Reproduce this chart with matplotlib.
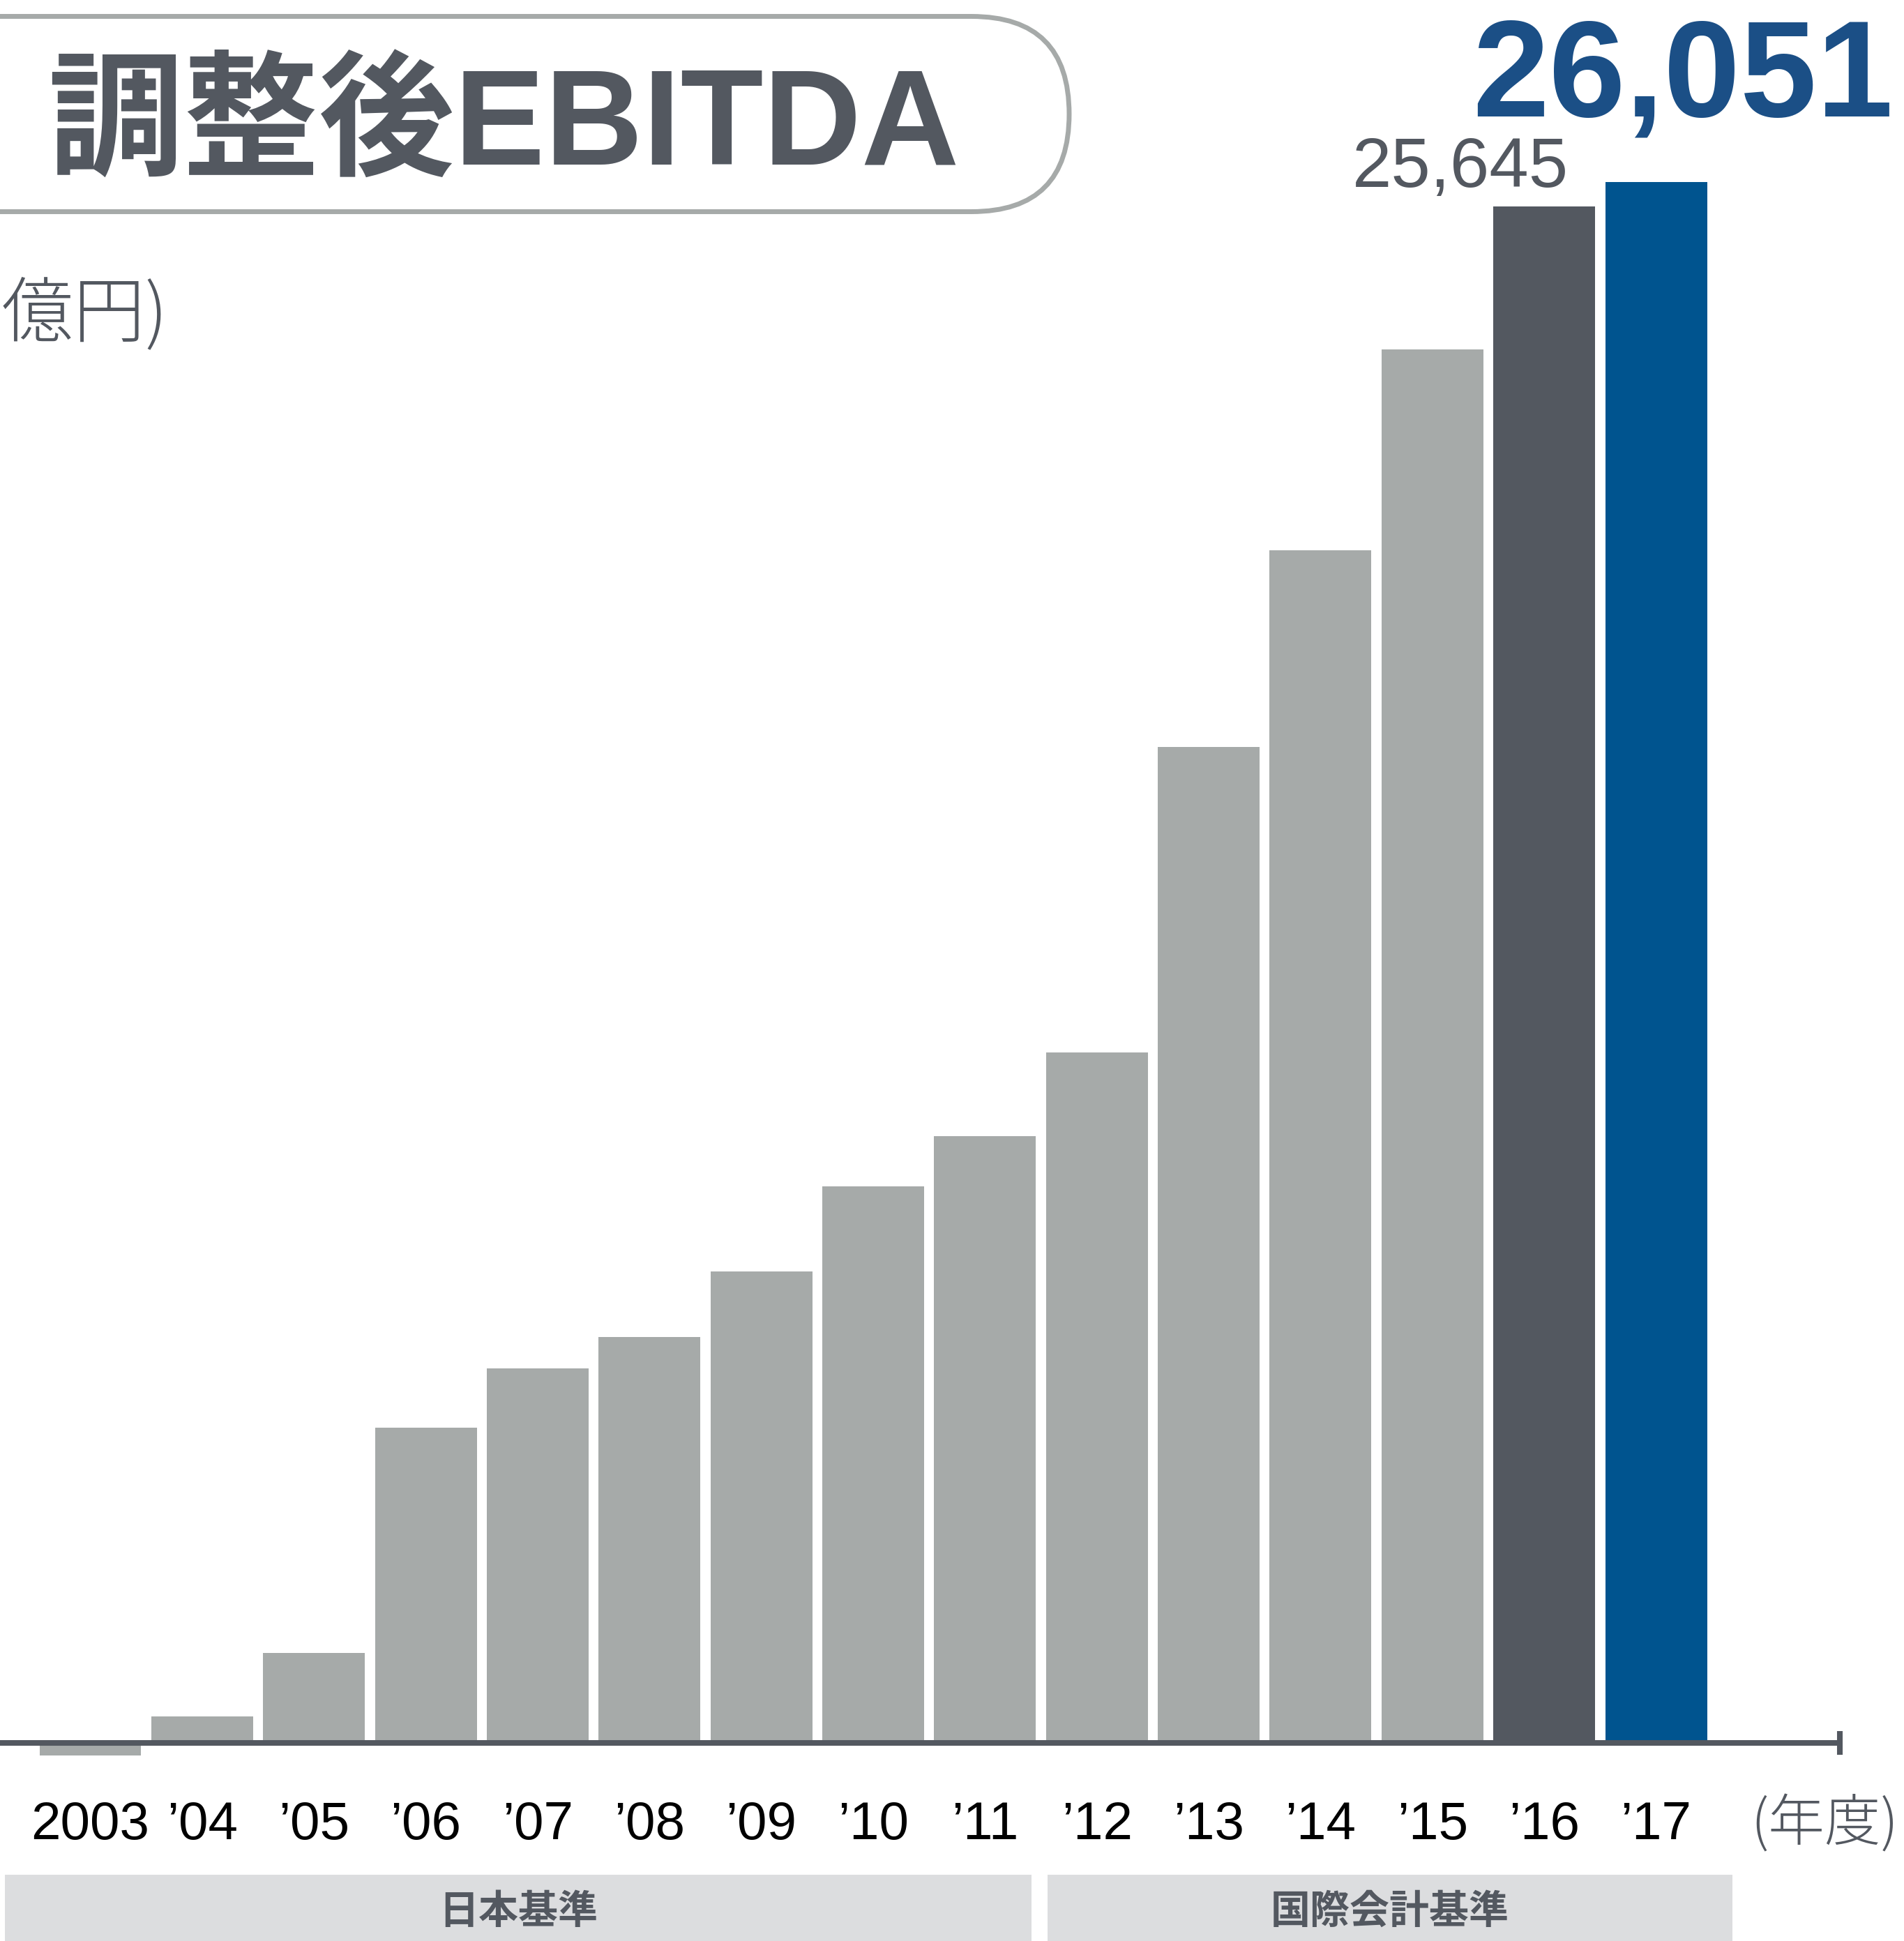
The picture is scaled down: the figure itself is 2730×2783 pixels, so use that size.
import numpy as np
import matplotlib
matplotlib.use("Agg")
import matplotlib.pyplot as plt
from matplotlib.patches import FancyBboxPatch, Rectangle
from matplotlib.transforms import blended_transform_factory

# data (億円)
years = ["2003", "’04", "’05", "’06", "’07", "’08", "’09", "’10",
         "’11", "’12", "’13", "’14", "’15", "’16", "’17"]
ebitda = [-210, 440, 1500, 5260, 6250, 6770, 7870, 9290,
          10130, 11520, 16620, 19900, 23260, 25645, 26051]
bar_colors = ["#A6AAA9"] * 13 + ["#535860", "#00548F"]
standards = ["日本基準", "国際会計基準"]
title = "調整後EBITDA"
unit_label = "(億円)"
year_label = "(年度)"

GRAY = "#535860"
W, H = 2730, 2783

fig = plt.figure(figsize=(W / 100, H / 100), dpi=100)

# main axes: bars in data units, placed to line up with the layout
pitch, x0, base, per_px = 160.36, 129.5, 2499, 11.64
ax = fig.add_axes([0, 0, 1, 1])
ax.set_xlim(-x0 / pitch, (W - x0) / pitch)
ax.set_ylim(-(H - base) * per_px, base * per_px)
x = np.arange(len(years))
ax.bar(x, ebitda, width=0.91, color=bar_colors, zorder=2)
ax.axis("off")

# overlay in pixel coords for the decoration
deco = fig.add_axes([0, 0, 1, 1], zorder=3)
deco.set_xlim(0, W)
deco.set_ylim(H, 0)
deco.axis("off")

# baseline + end tick
deco.plot([0, 2638], [base, base], color=GRAY, lw=5.8, solid_capstyle="butt")
deco.plot([2638, 2638], [2482, 2516], color=GRAY, lw=5.8, solid_capstyle="butt")

# title box
deco.add_patch(FancyBboxPatch((-300, 23.5), 1833, 280,
                              boxstyle="round,pad=0,rounding_size=140",
                              fill=False, ec="#A6AAA9", lw=5))
deco.text(68, 237, title, fontsize=140, fontweight="bold", color=GRAY,
          family=["Liberation Sans", "Noto Sans CJK JP"], ha="left", va="baseline")

deco.text(240, 452, unit_label, fontsize=74, fontweight="light", color=GRAY,
          family=["Noto Sans CJK JP"], ha="right", va="center")

# x labels
tr = blended_transform_factory(ax.transData, deco.transData)
for i, lab in enumerate(years):
    ax.text(i, 2637, lab, transform=tr, ha="center", va="baseline",
            fontsize=55, family="Liberation Sans", color="black")
deco.text(2722, 2617, year_label, fontsize=58, fontweight="light", color=GRAY,
          family=["Noto Sans CJK JP"], ha="right", va="center")

# value labels for the last two years
ax.annotate(f"{ebitda[-2]:,}", xy=(x[-2], ebitda[-2]), xytext=(35, 28),
            textcoords="offset pixels", ha="right", va="baseline",
            fontsize=73, color=GRAY, family="Liberation Sans")
ax.annotate(f"{ebitda[-1]:,}", xy=(x[-1], ebitda[-1]), xytext=(340, 94),
            textcoords="offset pixels", ha="right", va="baseline",
            fontsize=142, fontweight="bold", color="#1B4F86", family="Liberation Sans")

# accounting standard bands
bands = [(7, 1472), (1502, 982)]
for (bx, bw), name in zip(bands, standards):
    deco.add_patch(Rectangle((bx, 2688), bw, 120, color="#DCDDDF", lw=0))
    deco.text(bx + bw / 2, 2741, name, fontsize=41, fontweight="bold", color=GRAY,
              family=["Noto Sans CJK JP"], ha="center", va="center")

fig.savefig("out.png", dpi=100)
